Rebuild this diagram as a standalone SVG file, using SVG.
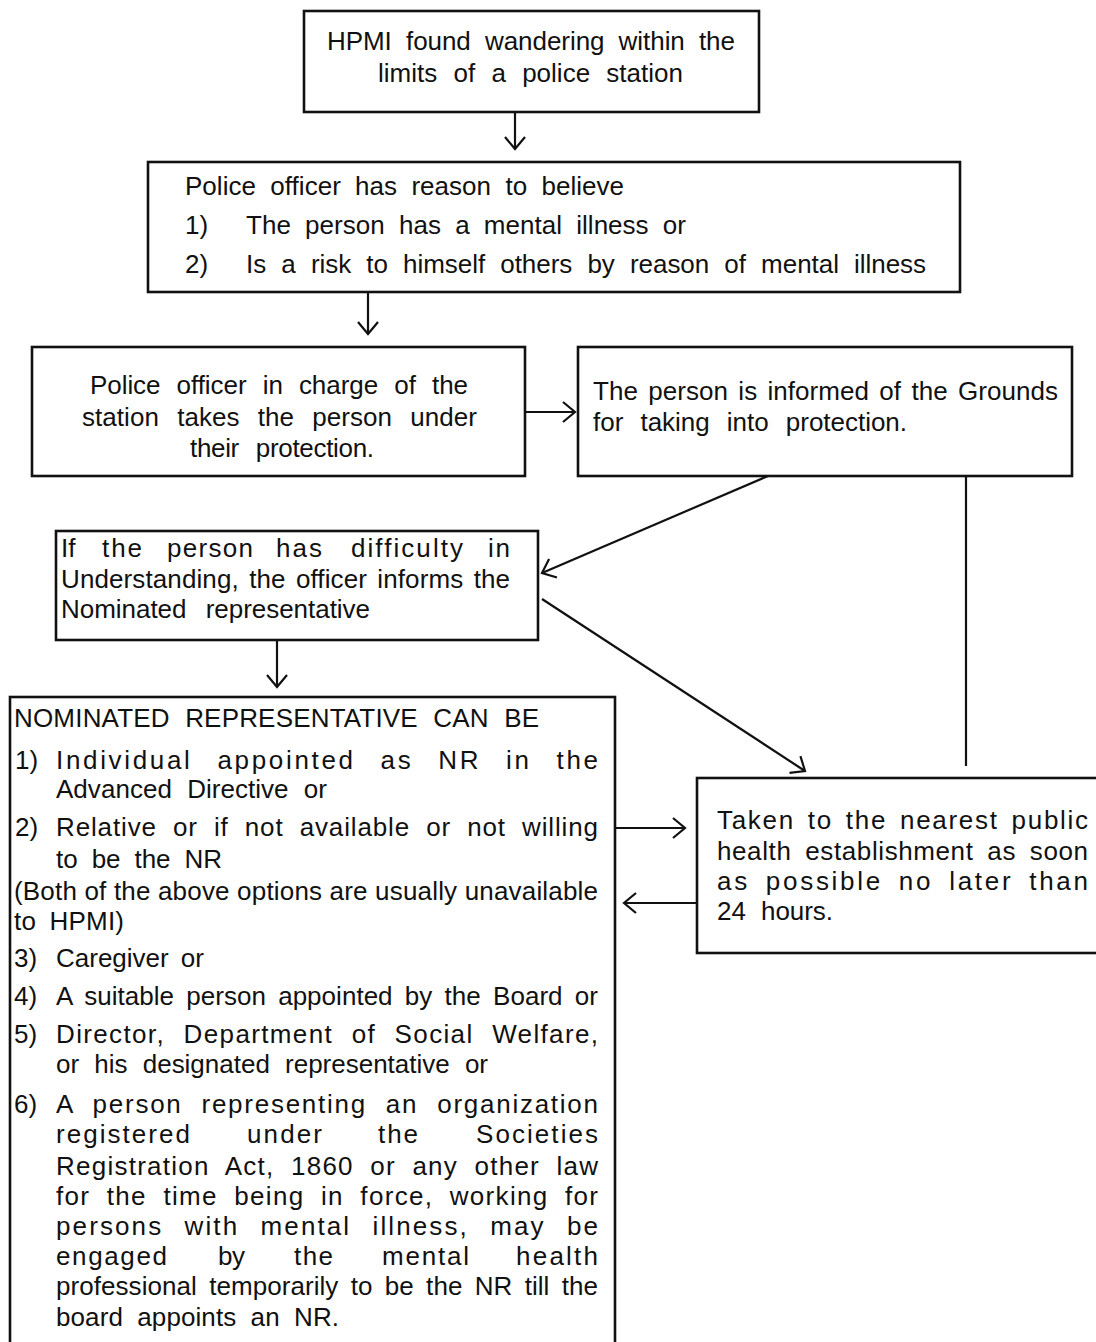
<svg xmlns="http://www.w3.org/2000/svg" width="1096" height="1342" viewBox="0 0 1096 1342">
  <style>
    .box { fill: #ffffff; stroke: #111111; stroke-width: 2.6; }
    .t { font-family: "Liberation Sans", Arial, sans-serif; font-size: 26px; fill: #111111; }
    .conn line { stroke: #111111; stroke-width: 2.2; fill: none; }
  </style>
  <defs>
    <marker id="head" markerUnits="userSpaceOnUse" viewBox="-16 -16 32 32" refX="0" refY="0" markerWidth="32" markerHeight="32" orient="auto" overflow="visible">
      <path d="M -12 -10 L 0 0 L -12 10" fill="none" stroke="#111111" stroke-width="2.2"/>
    </marker>
  </defs>
  <rect x="0" y="0" width="1096" height="1342" fill="#ffffff"/>

  <!-- connectors -->
  <g id="connectors" class="conn">
    <line x1="515" y1="112" x2="515" y2="149" marker-end="url(#head)"/>
    <line x1="368" y1="292" x2="368" y2="334" marker-end="url(#head)"/>
    <line x1="525" y1="412" x2="575" y2="412" marker-end="url(#head)"/>
    <line x1="768" y1="476" x2="542" y2="573" marker-end="url(#head)"/>
    <line x1="542" y1="599" x2="805" y2="771" marker-end="url(#head)"/>
    <line x1="966" y1="476" x2="966" y2="766"/>
    <line x1="277" y1="640" x2="277" y2="687" marker-end="url(#head)"/>
    <line x1="615" y1="828" x2="685" y2="828" marker-end="url(#head)"/>
    <line x1="697" y1="903" x2="624" y2="903" marker-end="url(#head)"/>
  </g>

  <!-- start: person found wandering -->
  <g id="node-hpmi-found">
    <rect class="box" x="304" y="11" width="455" height="101"/>
    <text class="t" x="327" y="50" word-spacing="7" textLength="408" lengthAdjust="spacing">HPMI found wandering within the</text>
    <text class="t" x="378" y="82" word-spacing="9" textLength="305" lengthAdjust="spacing">limits of a police station</text>
  </g>

  <!-- officer's belief -->
  <g id="node-reason-to-believe">
    <rect class="box" x="148" y="162" width="812" height="130"/>
    <text class="t" x="185" y="195" word-spacing="7" textLength="439" lengthAdjust="spacing">Police officer has reason to believe</text>
    <text class="t" x="185" y="234">1)</text>
    <text class="t" x="246" y="234" word-spacing="7" textLength="440" lengthAdjust="spacing">The person has a mental illness or</text>
    <text class="t" x="185" y="273">2)</text>
    <text class="t" x="246" y="273" word-spacing="8" textLength="680" lengthAdjust="spacing">Is a risk to himself others by reason of mental illness</text>
  </g>

  <!-- protection by officer in charge -->
  <g id="node-protection">
    <rect class="box" x="32" y="347" width="493" height="129"/>
    <text class="t" x="90" y="394" word-spacing="9" textLength="378" lengthAdjust="spacing">Police officer in charge of the</text>
    <text class="t" x="82" y="426" word-spacing="11" textLength="395" lengthAdjust="spacing">station takes the person under</text>
    <text class="t" x="190" y="457" word-spacing="10" textLength="184" lengthAdjust="spacing">their protection.</text>
  </g>

  <!-- grounds informed -->
  <g id="node-grounds">
    <rect class="box" x="578" y="347" width="494" height="129"/>
    <text class="t" x="593" y="400" word-spacing="3" textLength="465" lengthAdjust="spacing">The person is informed of the Grounds</text>
    <text class="t" x="593" y="431" word-spacing="10" textLength="314" lengthAdjust="spacing">for taking into protection.</text>
  </g>

  <!-- difficulty in understanding -->
  <g id="node-difficulty">
    <rect class="box" x="56" y="531" width="482" height="109"/>
    <text class="t" x="61" y="557">If</text>
    <text class="t" x="102" y="557" textLength="40" lengthAdjust="spacing">the</text>
    <text class="t" x="167" y="557" textLength="86" lengthAdjust="spacing">person</text>
    <text class="t" x="276" y="557" textLength="46" lengthAdjust="spacing">has</text>
    <text class="t" x="351" y="557" textLength="112" lengthAdjust="spacing">difficulty</text>
    <text class="t" x="488" y="557" textLength="22" lengthAdjust="spacing">in</text>
    <text class="t" x="61" y="588" word-spacing="3" textLength="449" lengthAdjust="spacing">Understanding, the officer informs the</text>
    <text class="t" x="61" y="618" word-spacing="12" textLength="309" lengthAdjust="spacing">Nominated representative</text>
  </g>

  <!-- who can be the nominated representative -->
  <g id="node-nominated-representative">
    <rect class="box" x="10" y="697" width="605" height="700"/>
    <text class="t" x="14" y="727" word-spacing="8" textLength="525" lengthAdjust="spacing">NOMINATED REPRESENTATIVE CAN BE</text>

    <text class="t" x="15" y="769">1)</text>
    <text class="t" x="56" y="769" word-spacing="15" textLength="542" lengthAdjust="spacing">Individual appointed as NR in the</text>
    <text class="t" x="56" y="798" word-spacing="8" textLength="271" lengthAdjust="spacing">Advanced Directive or</text>

    <text class="t" x="15" y="836">2)</text>
    <text class="t" x="56" y="836" word-spacing="8" textLength="542" lengthAdjust="spacing">Relative or if not available or not willing</text>
    <text class="t" x="56" y="868" word-spacing="7" textLength="166" lengthAdjust="spacing">to be the NR</text>

    <text class="t" x="14" y="900" textLength="584" lengthAdjust="spacing">(Both of the above options are usually unavailable</text>
    <text class="t" x="14" y="930" word-spacing="6" textLength="110" lengthAdjust="spacing">to HPMI)</text>

    <text class="t" x="14" y="967">3)</text>
    <text class="t" x="56" y="967" word-spacing="5" textLength="148" lengthAdjust="spacing">Caregiver or</text>

    <text class="t" x="14" y="1005">4)</text>
    <text class="t" x="56" y="1005" word-spacing="5" textLength="542" lengthAdjust="spacing">A suitable person appointed by the Board or</text>

    <text class="t" x="14" y="1043">5)</text>
    <text class="t" x="56" y="1043" word-spacing="10" textLength="542" lengthAdjust="spacing">Director, Department of Social Welfare,</text>
    <text class="t" x="56" y="1073" word-spacing="8" textLength="432" lengthAdjust="spacing">or his designated representative or</text>

    <text class="t" x="14" y="1113">6)</text>
    <text class="t" x="56" y="1113" word-spacing="10" textLength="542" lengthAdjust="spacing">A person representing an organization</text>
    <text class="t" x="56" y="1143" textLength="134" lengthAdjust="spacing">registered</text>
    <text class="t" x="247" y="1143" textLength="75" lengthAdjust="spacing">under</text>
    <text class="t" x="378" y="1143" textLength="40" lengthAdjust="spacing">the</text>
    <text class="t" x="476" y="1143" textLength="122" lengthAdjust="spacing">Societies</text>
    <text class="t" x="56" y="1175" word-spacing="8" textLength="542" lengthAdjust="spacing">Registration Act, 1860 or any other law</text>
    <text class="t" x="56" y="1205" word-spacing="8" textLength="542" lengthAdjust="spacing">for the time being in force, working for</text>
    <text class="t" x="56" y="1235" word-spacing="12" textLength="542" lengthAdjust="spacing">persons with mental illness, may be</text>
    <text class="t" x="56" y="1265" textLength="111" lengthAdjust="spacing">engaged</text>
    <text class="t" x="218" y="1265" textLength="27" lengthAdjust="spacing">by</text>
    <text class="t" x="294" y="1265" textLength="39" lengthAdjust="spacing">the</text>
    <text class="t" x="382" y="1265" textLength="87" lengthAdjust="spacing">mental</text>
    <text class="t" x="516" y="1265" textLength="82" lengthAdjust="spacing">health</text>
    <text class="t" x="56" y="1295" word-spacing="5" textLength="542" lengthAdjust="spacing">professional temporarily to be the NR till the</text>
    <text class="t" x="56" y="1326" word-spacing="7" textLength="283" lengthAdjust="spacing">board appoints an NR.</text>
  </g>

  <!-- taken to health establishment -->
  <g id="node-health-establishment">
    <rect class="box" x="697" y="778" width="420" height="175"/>
    <text class="t" x="717" y="829" word-spacing="4" textLength="371" lengthAdjust="spacing">Taken to the nearest public</text>
    <text class="t" x="717" y="860" word-spacing="6" textLength="371" lengthAdjust="spacing">health establishment as soon</text>
    <text class="t" x="717" y="890" word-spacing="6" textLength="371" lengthAdjust="spacing">as possible no later than</text>
    <text class="t" x="717" y="920" word-spacing="8" textLength="116" lengthAdjust="spacing">24 hours.</text>
  </g>
</svg>
